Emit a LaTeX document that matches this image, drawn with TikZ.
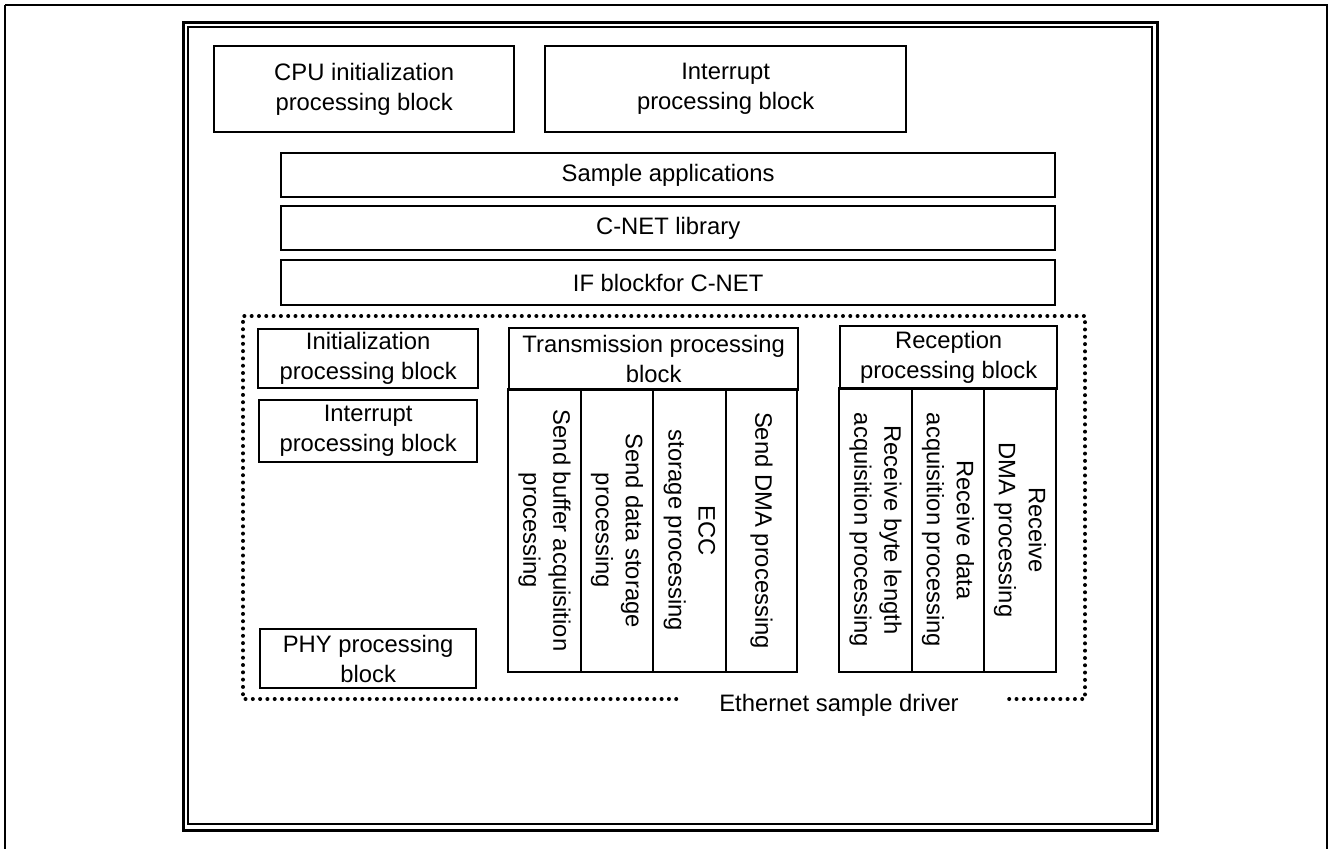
\documentclass[tikz,border=0pt]{standalone}
\usepackage{fontspec}
\setmainfont{Liberation Sans}
\usetikzlibrary{positioning}

\begin{document}
\begin{tikzpicture}[
    x=0.5pt, y=-0.5pt,
    font=\fontsize{11.9}{15}\selectfont,
    blk/.style={draw=black, line width=1.15pt, align=center, inner sep=0pt,
      anchor=north west},
    col/.style={draw=black, line width=1.15pt, align=center, inner sep=0pt,
      rotate=-90, minimum height=36.5pt},
    frm/.style={draw=black, line width=1.2pt},
    dots/.style={line width=2pt, dash pattern=on 0pt off 3.65pt, line cap=round}
  ]
  \useasboundingbox (0,0) rectangle (1328,848);
  % page and double frame
  \draw[line width=1.1pt] (5,5) -- (5,860) (5,5) -- (1327,5) -- (1327,860);
  \draw[line width=1.5pt] (183,22) rectangle (1157,830);
  \draw[frm] (188,27) rectangle (1152,824);

  % top blocks
  \node[blk, minimum width=150pt, minimum height=43pt] (cpu) at (213,45)
    {CPU initialization\\processing block};
  \node[blk, minimum width=180.5pt, minimum height=43pt] (intr) at (544,45)
    {Interrupt\\processing block};
  \node[blk, minimum width=387pt, minimum height=22pt] (app) at (280,152)
    {Sample applications};
  \node[blk, minimum width=387pt, minimum height=22pt] (cnet) at (280,205)
    {C-NET library};
  \node[blk, minimum width=387pt, minimum height=22.5pt] (ifc) at (280,259)
    {IF blockfor C-NET};

  % driver
  \node[blk, minimum width=110pt, minimum height=29.5pt] (init) at (257,328)
    {Initialization\\processing block};
  \node[blk, minimum width=109pt, minimum height=31pt] (intr2) at (258,399)
    {Interrupt\\processing block};
  \node[blk, minimum width=108pt, minimum height=29.5pt] (phy) at (259,628)
    {PHY processing\\block};

  \node[blk, minimum width=144.5pt, minimum height=31pt] (tx) at (508,327)
    {Transmission processing\\block};
  \node[col, minimum width=141.5pt] (tx1) at (544.5,530.5)
    {Send buffer acquisition\\processing};
  \node[col, minimum width=141.5pt, minimum height=36pt] (tx2) at (617,530.5)
    {Send data storage\\processing};
  \node[col, minimum width=141.5pt] (tx3) at (689.5,530.5)
    {ECC\\storage processing};
  \node[col, minimum width=141.5pt, minimum height=35.5pt] (tx4) at (761.5,530.5)
    {Send DMA processing};

  \node[blk, minimum width=108.5pt, minimum height=31.5pt] (rx) at (839,325)
    {Reception\\processing block};
  \node[col, minimum width=142pt] (rx1) at (875.5,530)
    {Receive byte length\\acquisition processing};
  \node[col, minimum width=142pt, minimum height=36pt] (rx2) at (948,530)
    {Receive data\\acquisition processing};
  \node[col, minimum width=142pt, minimum height=36pt] (rx3) at (1020,530)
    {Receive\\DMA processing};

  \node (drv) at (839,705) {Ethernet sample driver};
  \draw[dots] (drv.west |- 0,699) ++(-36,0) -- (243,699) -- (243,316)
    -- (1085,316) -- (1085,699) -- (1005,699);
\end{tikzpicture}
\end{document}
